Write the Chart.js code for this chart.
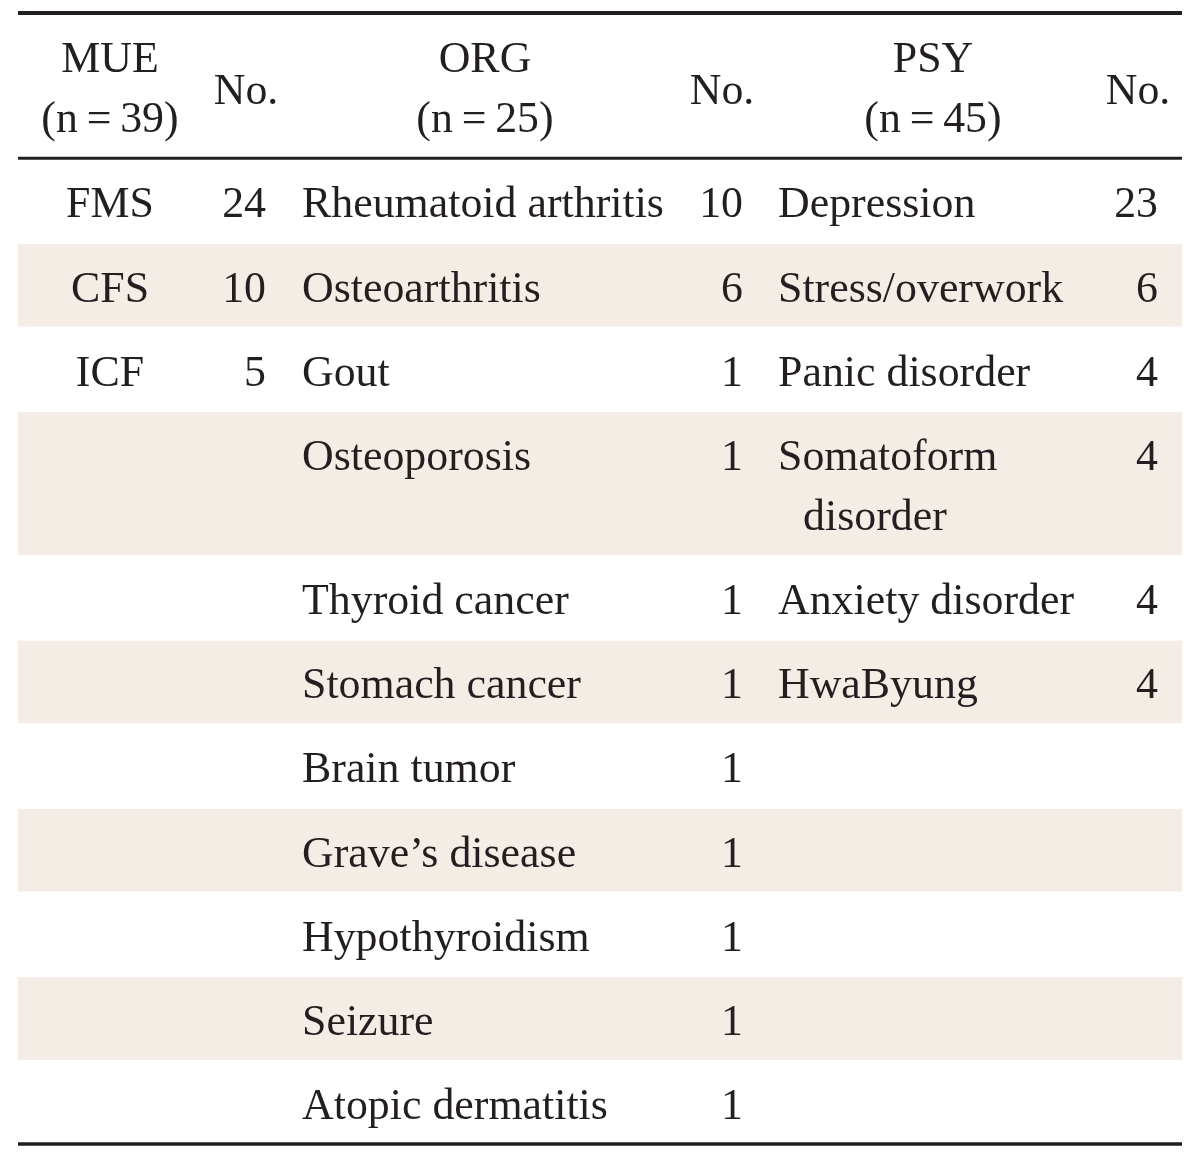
<!DOCTYPE html>
<html lang="en">
<head>
<meta charset="UTF-8" />
<title>MUE / ORG / PSY diagnoses</title>
<script src="https://cdn.jsdelivr.net/npm/chart.js"></script>
<style>
  html, body { margin: 0; padding: 0; background: #fff; }
  .wrap { width: 1200px; height: 1155px; }
</style>
</head>
<body>
<div class="wrap"><canvas id="tableChart" width="1200" height="1155"></canvas></div>
<script>
// table content
const groupNames = ['MUE', 'ORG', 'PSY'];
const groupSizes = [39, 25, 45];
const countHeader = 'No.';
const mueNames = ['FMS', 'CFS', 'ICF'];
const mueCounts = [24, 10, 5];
const orgNames = ['Rheumatoid arthritis', 'Osteoarthritis', 'Gout', 'Osteoporosis', 'Thyroid cancer',
  'Stomach cancer', 'Brain tumor', 'Grave\u2019s disease', 'Hypothyroidism', 'Seizure', 'Atopic dermatitis'];
const orgCounts = [10, 6, 1, 1, 1, 1, 1, 1, 1, 1, 1];
const psyNames = ['Depression', 'Stress/overwork', 'Panic disorder', 'Somatoform disorder', 'Anxiety disorder', 'HwaByung'];
const psyCounts = [23, 6, 4, 4, 4, 4];

// look
const INK = '#231f20';
const SHADE = '#f4ede6';
const FONT = '45px "Liberation Serif", "Times New Roman", serif';
const CONDENSE = 0.975; // the printed face runs a bit narrower than Liberation Serif
const W = 1164;      // table width in x units
const HEAD = 145;    // header block height
const ROW = 84;      // single line row
const LINE = 60;     // extra per wrapped line
const BASE = 59;     // first baseline below row top

// column anchors (x units), name columns carry a wrap width
const groups = [
  { names: mueNames, counts: mueCounts, nameX: 92, align: 'center', wrapW: 170, headX: 92, numX: 248, numHeadX: 228, indent: 0 },
  { names: orgNames, counts: orgCounts, nameX: 284, align: 'left', wrapW: 390, headX: 467, numX: 725, numHeadX: 704, indent: 25 },
  { names: psyNames, counts: psyCounts, nameX: 760, align: 'left', wrapW: 320, headX: 915, numX: 1140, numHeadX: 1120, indent: 25 }
];

const meas = document.createElement('canvas').getContext('2d');
meas.font = FONT;
function wrap(text, maxW) {
  const words = text.split(' ');
  const lines = [];
  let cur = '';
  words.forEach(w => {
    const t = cur ? cur + ' ' + w : w;
    if (cur && meas.measureText(t).width * CONDENSE > maxW) { lines.push(cur); cur = w; }
    else cur = t;
  });
  lines.push(cur);
  return lines;
}

// row layout from the content
const nRows = Math.max(mueNames.length, orgNames.length, psyNames.length);
const rows = [];
let rowTop = HEAD;
for (let i = 0; i < nRows; i++) {
  const cells = groups.map(g => g.names[i] ? wrap(g.names[i], g.wrapW) : []);
  const lines = Math.max(1, ...cells.map(c => c.length));
  const h = ROW + LINE * (lines - 1);
  rows.push({ top: rowTop, h, cells });
  rowTop += h;
}
const total = rowTop;

const rules = [
  { y: 0, w: 4 },
  { y: HEAD, w: 3 },
  { y: total, w: 3.5 }
];

function text(ctx, s, px, py) {
  ctx.fillText(s, px, py, ctx.measureText(s).width * CONDENSE);
}

const tablePlugin = {
  id: 'tablePlugin',
  beforeDatasetsDraw(chart) {
    const { ctx, scales: { x, y } } = chart;
    ctx.save();
    ctx.fillStyle = SHADE;
    rows.forEach((r, i) => {
      if (i % 2 === 0) return;
      const y0 = y.getPixelForValue(r.top) + 1.5;
      const y1 = y.getPixelForValue(r.top + r.h);
      ctx.fillRect(x.getPixelForValue(0), y0, x.getPixelForValue(W) - x.getPixelForValue(0), y1 - y0);
    });
    ctx.restore();
  },
  afterDatasetsDraw(chart) {
    const { ctx, scales: { x, y } } = chart;
    ctx.save();
    ctx.font = FONT;
    ctx.fillStyle = INK;
    ctx.textBaseline = 'alphabetic';

    // header
    groups.forEach((g, k) => {
      ctx.textAlign = 'center';
      text(ctx, groupNames[k], x.getPixelForValue(g.headX), y.getPixelForValue(BASE));
      text(ctx, '(n\u2009=\u2009' + groupSizes[k] + ')', x.getPixelForValue(g.headX), y.getPixelForValue(BASE + LINE));
      text(ctx, countHeader, x.getPixelForValue(g.numHeadX), y.getPixelForValue(BASE + LINE / 2 + 2));
    });

    // body
    rows.forEach((r, i) => {
      groups.forEach((g, k) => {
        r.cells[k].forEach((s, j) => {
          ctx.textAlign = g.align;
          const xv = g.nameX + (j > 0 ? g.indent : 0);
          text(ctx, s, x.getPixelForValue(xv), y.getPixelForValue(r.top + BASE + j * LINE));
        });
        if (g.counts[i] !== undefined) {
          ctx.textAlign = 'right';
          text(ctx, String(g.counts[i]), x.getPixelForValue(g.numX), y.getPixelForValue(r.top + BASE));
        }
      });
    });
    ctx.restore();
  }
};

new Chart(document.getElementById('tableChart'), {
  type: 'line',
  data: {
    datasets: rules.map(r => ({
      data: [{ x: 0, y: r.y }, { x: W, y: r.y }],
      borderColor: INK,
      borderWidth: r.w,
      pointRadius: 0,
      clip: false
    }))
  },
  options: {
    responsive: false,
    animation: false,
    devicePixelRatio: 1,
    layout: { padding: { left: 18, right: 18, top: 13, bottom: 1155 - 13 - total - 2 } },
    plugins: { legend: { display: false }, tooltip: { enabled: false } },
    scales: {
      x: { type: 'linear', min: 0, max: W, display: false },
      y: { type: 'linear', min: 0, max: total, reverse: true, display: false }
    }
  },
  plugins: [tablePlugin]
});
</script>
</body>
</html>
